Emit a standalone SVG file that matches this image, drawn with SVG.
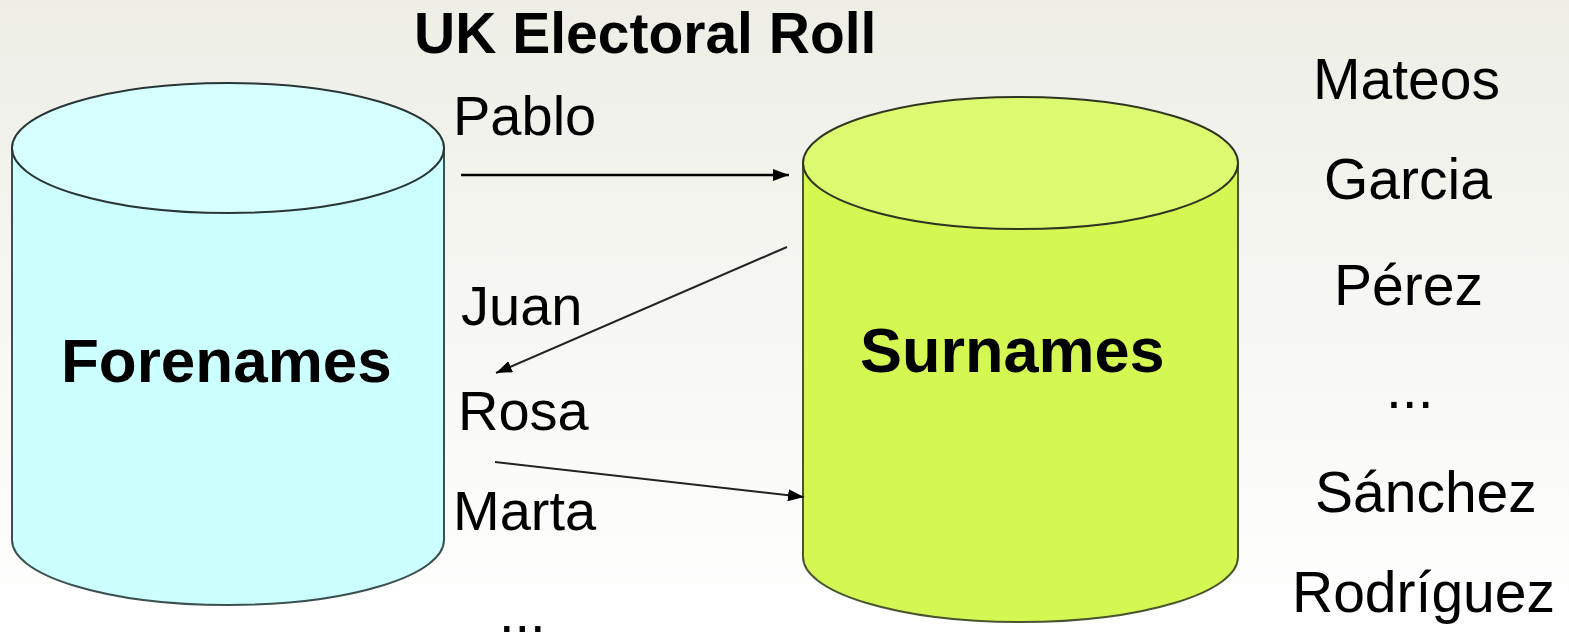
<svg xmlns="http://www.w3.org/2000/svg" width="1569" height="638" viewBox="0 0 1569 638">
  <defs>
    <linearGradient id="bg" x1="0" y1="0" x2="0" y2="1">
      <stop offset="0" stop-color="#eeeee7"/>
      <stop offset="1" stop-color="#ffffff"/>
    </linearGradient>
    <marker id="ah" viewBox="0 0 16 12" refX="16" refY="6" markerWidth="16" markerHeight="12" markerUnits="userSpaceOnUse" orient="auto">
      <path d="M0,0 L16,6 L0,12 Z" fill="#000"/>
    </marker>
    <style>
      text { font-family: "Liberation Sans", Arial, sans-serif; fill: #000; }
      .lbl { font-size: 56px; }
      .rl { font-size: 57px; }
      .bold { font-weight: bold; }
      .conn { stroke: #222; stroke-width: 2; fill: none; marker-end: url(#ah); }
    </style>
  </defs>
  <rect x="0" y="0" width="1569" height="638" fill="url(#bg)"/>

  <text class="bold" x="414" y="53" font-size="57">UK Electoral Roll</text>

  <g id="forenames">
    <path d="M12,148 L12,540 A216,65 0 0 0 444,540 L444,148 Z" fill="#ccffff" stroke="#3c5050" stroke-width="2"/>
    <ellipse cx="228" cy="148" rx="216" ry="65" fill="#d6ffff" stroke="#2a3535" stroke-width="2"/>
    <text class="bold" x="61" y="382" font-size="62">Forenames</text>
  </g>

  <g id="surnames">
    <path d="M803,163 L803,557 A217.5,65 0 0 0 1238,557 L1238,163 Z" fill="#d4f752" stroke="#4a5530" stroke-width="2"/>
    <ellipse cx="1020.5" cy="163" rx="217.5" ry="66" fill="#ddf970" stroke="#2f3520" stroke-width="2"/>
    <text class="bold" x="860" y="372" font-size="63">Surnames</text>
  </g>

  <g id="connectors">
    <line class="conn" x1="461" y1="175" x2="789" y2="175" style="stroke:#000;stroke-width:2.5"/>
    <line class="conn" x1="787" y1="247" x2="496" y2="373"/>
    <line class="conn" x1="495" y1="462" x2="804" y2="497"/>
  </g>

  <g id="forename-list">
    <text class="lbl" x="453" y="135">Pablo</text>
    <text class="lbl" x="461" y="325">Juan</text>
    <text class="lbl" x="458" y="430">Rosa</text>
    <text class="lbl" x="453" y="530">Marta</text>
    <text class="lbl" x="499" y="632">...</text>
  </g>

  <g id="surname-list">
    <text class="rl" x="1313" y="99">Mateos</text>
    <text class="rl" x="1324" y="199">Garcia</text>
    <text class="rl" x="1334" y="305">Pérez</text>
    <text class="rl" x="1386" y="408">...</text>
    <text class="rl" x="1315" y="512">Sánchez</text>
    <text class="rl" x="1292" y="612">Rodríguez</text>
  </g>
</svg>
